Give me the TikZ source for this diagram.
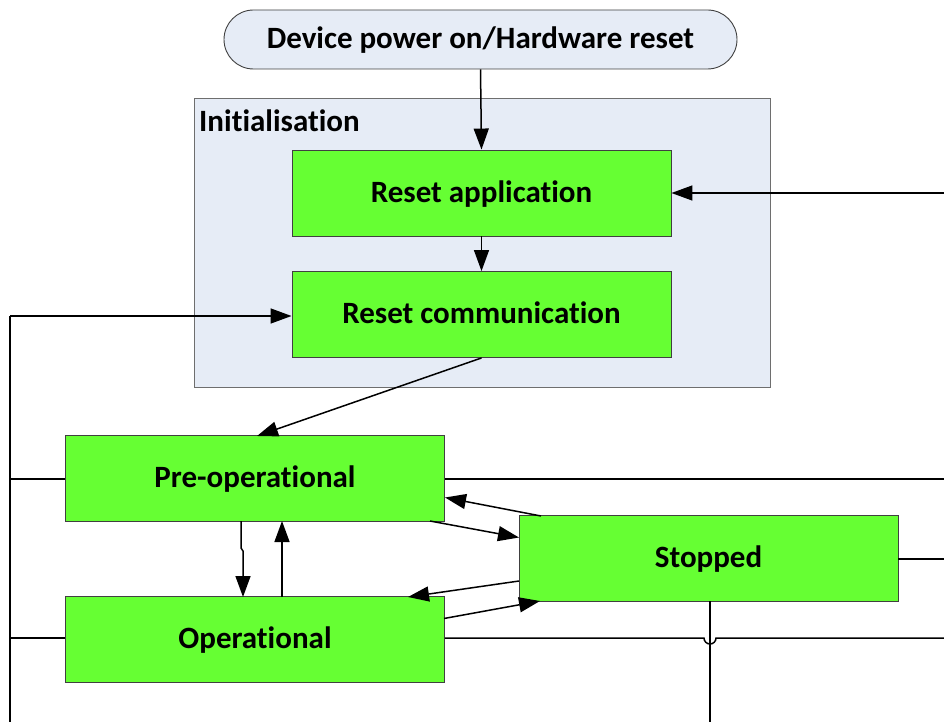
\documentclass[tikz,border=0pt]{standalone}
\usepackage{fontspec}
\setmainfont[Ligatures=NoCommon]{Carlito}
\usetikzlibrary{arrows.meta}
\definecolor{stategreen}{HTML}{66FF33}
\definecolor{panelblue}{HTML}{E6ECF6}
\definecolor{edgegray}{HTML}{404040}
\definecolor{panelgray}{HTML}{6E6E6E}
\tikzset{
  labelfont/.style={font=\fontsize{31}{36}\selectfont\bfseries,
    text height=22pt, text depth=4pt},
  state/.style={draw=edgegray, line width=0.9pt, fill=stategreen,
    minimum width=379pt, minimum height=86pt, inner sep=0pt, labelfont},
  conn/.style={line width=1.5pt, black},
  arr/.style={conn, -{Triangle[length=21pt, width=15pt]}},
}
\begin{document}
\begin{tikzpicture}[x=1pt, y=-1pt]
  \useasboundingbox (0,0) rectangle (944,722);

  % Initialisation group
  \node[draw=panelgray, line width=0.9pt, fill=panelblue, minimum width=576pt,
    minimum height=289pt, inner sep=0pt] (init) at (482,242.5) {};
  \node[anchor=west, inner sep=0pt, labelfont] (initlbl) at (199,123) {Initialisation};

  % Start terminal
  \node[draw=edgegray, line width=0.9pt, fill=panelblue, rounded corners=29.5pt,
    minimum width=513pt, minimum height=59pt, inner sep=0pt, labelfont]
    (start) at (480.5,39.5) {Device power on/Hardware reset};

  % States
  \node[state] (ra) at (481.5,193) {Reset application};
  \node[state] (rc) at (481.5,314.5) {Reset communication};
  \node[state] (pre) at (255,478.5) {Pre-operational};
  \node[state] (op) at (255,639.5) {Operational};
  \node[state] (stop) at (708.5,558.5) {Stopped};

  % Free ends of lines leaving the drawing
  \coordinate (eRA) at (944,193);
  \coordinate (ePre) at (944,479);
  \coordinate (eOp) at (944,638);
  \coordinate (eStop) at (944,559);
  \coordinate (lx) at (10,316);
  \coordinate (bot) at (10,722.4);
  \coordinate (botS) at (710,722.4);

  % Initialisation sequence
  \draw[arr] (start.south) -- (ra.north);
  \draw[arr] (ra.south) -- (rc.north);
  \draw[arr] (rc.south) -- (257,436);
  \draw[arr] (eRA) -- (ra.east);

  % Pre-operational <-> Operational
  \draw[arr] (241,521) -- (241,548) -- (243,551) -- (243,597);
  \draw[arr] (282,597) -- (282,521);

  % Stopped transitions
  \draw[arr] (541,516) -- (445,497.5);
  \draw[arr] (430,521) -- (519,537.5);
  \draw[arr] (519,581) -- (408,597);
  \draw[arr] (444,618.5) -- (540,601);

  % Return path to Reset communication
  \draw[conn] (710,601) -- (botS) -- (bot) -- (lx);
  \draw[arr] (lx) -- (rc.west |- lx);
  \draw[conn] (10,479) -- (pre.west |- 10,479);
  \draw[conn] (10,638) -- (op.west |- 10,638);

  % Lines to the right
  \draw[conn] (pre.east |- ePre) -- (ePre);
  \draw[conn] (op.east |- eOp) -- (704,638) arc[start angle=180, end angle=0, radius=6] -- (eOp);
  \draw[conn] (stop.east |- eStop) -- (eStop);
\end{tikzpicture}
\end{document}
